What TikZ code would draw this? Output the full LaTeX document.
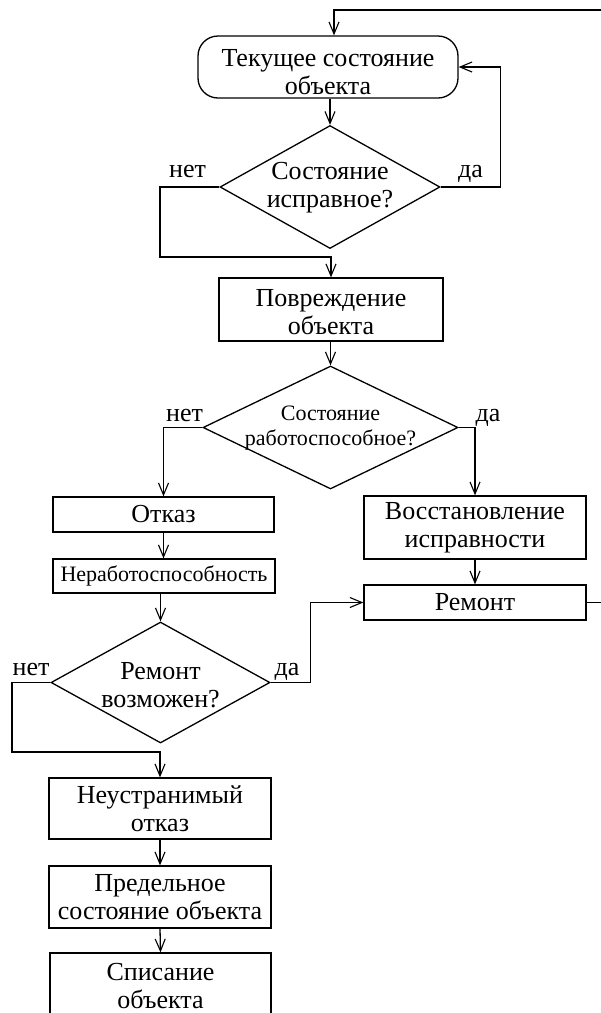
\documentclass[tikz,border=0pt]{standalone}
\usepackage{fontspec}
\setmainfont{Liberation Serif}
\usetikzlibrary{shapes.geometric,arrows.meta,calc}
\begin{document}
\begin{tikzpicture}[x=1pt,y=-1pt,
  line width=1.3pt,
  arr/.style={-{Straight Barb[length=12pt,width=10pt,line width=1.1pt]}},
  blk/.style={draw, rectangle, align=center, inner sep=0pt, font=\fontsize{26}{28}\selectfont},
  term/.style={blk, rounded corners=20pt},
  dia/.style={draw, diamond, inner sep=0pt},
  txt/.style={align=center, inner sep=0pt, font=\fontsize{26}{28}\selectfont},
  lbl/.style={anchor=base, inner sep=0pt, font=\fontsize{26}{28}\selectfont}
]
\useasboundingbox (0,0) rectangle (601,1013);

% nodes
\node[term, minimum width=260pt, minimum height=62pt] (term) at (328,67) {\rule{0pt}{27pt}Текущее состояние\\объекта};
\node[dia, minimum width=220pt, minimum height=123pt] (d1) at (330,187) {};
\node[txt] (d1t) at (330,188) {Состояние\\исправное?};
\node[blk, minimum width=224pt, minimum height=63pt] (box1) at (331,309.5) {\rule{0pt}{22pt}Повреждение\\объекта};
\node[dia, minimum width=255pt, minimum height=123pt] (d2) at (330.5,427.5) {};
\node[txt, font=\fontsize{22}{25}\selectfont] (d2t) at (330.5,428) {Состояние\\работоспособное?};
\node[blk, minimum width=221pt, minimum height=35pt] (otkaz) at (163.5,514.5) {Отказ};
\node[blk, minimum width=222pt, minimum height=34pt, font=\fontsize{22}{25}\selectfont] (nerab) at (164,576) {Неработоспособность};
\node[dia, minimum width=219pt, minimum height=121pt] (d3) at (160.5,682.5) {};
\node[txt] (d3t) at (160.5,685) {Ремонт\\возможен?};
\node[blk, minimum width=222pt, minimum height=61pt] (neustr) at (160,808.5) {Неустранимый\\отказ};
\node[blk, minimum width=222pt, minimum height=62pt] (pred) at (160,897) {Предельное\\состояние объекта};
\node[blk, minimum width=221pt, minimum height=67pt] (spis) at (160.5,986.5) {Списание\\объекта};
\node[blk, minimum width=222pt, minimum height=63pt] (vost) at (475,527.5) {Восстановление\\исправности};
\node[blk, minimum width=222pt, minimum height=35pt] (remont) at (475,602.5) {Ремонт};

% labels
\node[lbl] (l1n) at (187.5,177) {нет};
\node[lbl] (l1y) at (470.5,177) {да};
\node[lbl] (l2n) at (184.5,421) {нет};
\node[lbl] (l2y) at (488,421) {да};
\node[lbl] (l3n) at (31,675) {нет};
\node[lbl] (l3y) at (287,675) {да};

% coordinates
\coordinate (topin) at (334,10);
\coordinate (n1) at (160,257);
\coordinate (n3) at (12,752);

% connectors
\draw[arr] (remont.east) -- ++(40,0) |- (topin) -- (topin |- term.north);
\draw[arr] (d1.north |- term.south) -- (d1.north);
\draw[arr] (d1.east) -- ++(60,0) |- (term.east);
\draw[arr] (d1.west) -| (n1) -| (box1.north);
\draw[arr] (d2.north |- box1.south) -- (d2.north);
\draw[arr] (d2.west) -| (otkaz.north);
\draw[arr] (d2.east) -| (vost.north);
\draw[arr] (otkaz.south) -- (otkaz.south |- nerab.north);
\draw[arr] (d3.north |- nerab.south) -- (d3.north);
\draw[arr] (d3.west) -| (n3) -| (neustr.north);
\draw[arr] (d3.east) -- ++(40,0) |- (remont.west);
\draw[arr] (vost.south) -- (remont.north);
\draw[arr] (neustr.south) -- (pred.north);
\draw[arr] (pred.south) -- (spis.north);
\end{tikzpicture}
\end{document}
